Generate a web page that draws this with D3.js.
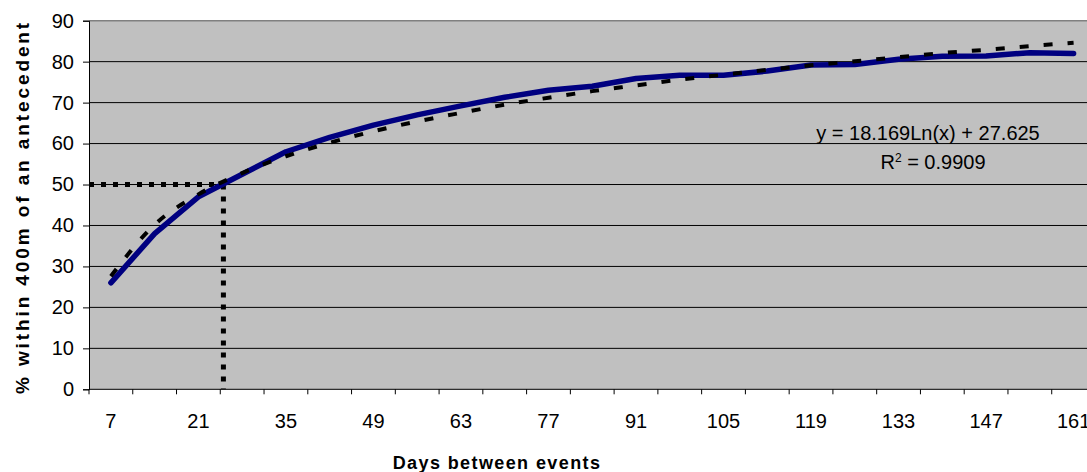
<!DOCTYPE html>
<html>
  <head>
    <meta charset="utf-8">
    <script src="https://d3js.org/d3.v7.min.js"></script>
    <style>
    body {
      margin: 0;
      background: #fff;
    }

    svg text {
      font-family: "Liberation Sans", Arial, sans-serif;
      fill: #000;
    }

    .axis-title {
      font-weight: bold;
    }
  </style>
  </head>
  <body>
    <div id="chart"></div>
    <script>
    // days between events (one category per week)
    var days = [7, 14, 21, 28, 35, 42, 49, 56, 63, 70, 77, 84, 91, 98, 105,
      112, 119, 126, 133, 140, 147, 154, 161];
    // % within 400m of an antecedent
    var pct = [26, 38, 47, 52.5, 58, 61.5, 64.5, 67, 69.2, 71.3, 73, 74,
      75.9, 76.7, 76.7, 77.7, 79.2, 79.3, 80.6, 81.3, 81.4, 82.2, 82];
    // log trendline as drawn (y = 18.169Ln(x) + 27.625)
    var trend = [27.6, 40.2, 47.6, 52.8, 56.9, 60.2, 63.0, 65.4, 67.5, 69.5,
      71.2, 72.8, 74.2, 75.6, 76.8, 78.0, 79.1, 80.1, 81.1, 82.1, 82.9, 83.8, 84.6];
    var yTicks = [0, 10, 20, 30, 40, 50, 60, 70, 80, 90];
    var xLabels = [7, 21, 35, 49, 63, 77, 91, 105, 119, 133, 147, 161];
    // dotted reading lines: 50% reached at about 25 days
    var refDay = [25];
    var refPct = [50];

    function draw() {
      var W = 1087, H = 472;
      var pLeft = 89, pTop = 20.7, pBottom = 389.3;
      var step = 43.76;
      var pRight = pLeft + step * days.length;

      var svg = d3.select('#chart').append('svg')
        .attr('width', W)
        .attr('height', H);

      var x = d3.scaleBand()
        .domain(days)
        .range([pLeft, pRight]);
      var y = d3.scaleLinear()
        .domain([0, 90])
        .range([pBottom, pTop]);

      // continuous x in days for the reference lines
      var xd = d3.scaleLinear()
        .domain([7, 161])
        .range([x(7) + x.bandwidth() / 2, x(161) + x.bandwidth() / 2]);

      // plot area
      svg.append('rect')
        .attr('x', pLeft)
        .attr('y', pTop)
        .attr('width', pRight - pLeft)
        .attr('height', pBottom - pTop)
        .attr('fill', '#c0c0c0');

      // grid lines
      svg.append('g')
        .selectAll('line')
        .data(yTicks.filter(function (d) { return d > 0 && d < 90; }))
        .enter().append('line')
        .attr('x1', pLeft)
        .attr('x2', pRight)
        .attr('y1', function (d) { return y(d); })
        .attr('y2', function (d) { return y(d); })
        .attr('stroke', '#000')
        .attr('stroke-width', 1);

      svg.append('line')
        .attr('x1', pLeft)
        .attr('x2', pRight)
        .attr('y1', y(90))
        .attr('y2', y(90))
        .attr('stroke', '#808080')
        .attr('stroke-width', 1.5);

      // y axis
      var gy = svg.append('g')
        .attr('transform', 'translate(' + pLeft + ',0)')
        .call(d3.axisLeft(y).tickValues(yTicks).tickSize(6).tickPadding(9));
      gy.select('.domain').attr('stroke', '#000');
      gy.selectAll('.tick line').attr('stroke', '#000');
      gy.selectAll('.tick text')
        .attr('font-family', null)
        .style('font-size', '20px');

      // x axis (ticks between categories, every other label)
      var gx = svg.append('g')
        .attr('transform', 'translate(0,' + pBottom + ')');
      gx.append('line')
        .attr('x1', pLeft)
        .attr('x2', pRight)
        .attr('stroke', '#000');
      gx.selectAll('.tk')
        .data(d3.range(days.length + 1))
        .enter().append('line')
        .attr('class', 'tk')
        .attr('x1', function (i) { return pLeft + step * i; })
        .attr('x2', function (i) { return pLeft + step * i; })
        .attr('y1', 0)
        .attr('y2', 5)
        .attr('stroke', '#000');
      gx.selectAll('.lbl')
        .data(xLabels)
        .enter().append('text')
        .attr('class', 'lbl')
        .attr('x', function (d) { return x(d) + x.bandwidth() / 2; })
        .attr('y', 39)
        .attr('text-anchor', 'middle')
        .style('font-size', '20px')
        .text(function (d) { return d; });

      // axis titles
      svg.append('text')
        .attr('class', 'axis-title')
        .attr('x', 497)
        .attr('y', 469)
        .attr('text-anchor', 'middle')
        .style('font-size', '18px')
        .style('letter-spacing', '1.4px')
        .text('Days between events');

      svg.append('text')
        .attr('class', 'axis-title')
        .attr('transform', 'translate(29,' + ((pTop + pBottom) / 2 + 2) + ') rotate(-90)')
        .attr('text-anchor', 'middle')
        .style('font-size', '19px')
        .style('letter-spacing', '2.9px')
        .text('% within 400m of an antecedent');

      // dotted reading lines
      svg.append('line')
        .attr('x1', pLeft)
        .attr('x2', xd(refDay[0]))
        .attr('y1', y(refPct[0]))
        .attr('y2', y(refPct[0]))
        .attr('stroke', '#000')
        .attr('stroke-width', 5)
        .attr('stroke-dasharray', '5,7');
      svg.append('line')
        .attr('x1', xd(refDay[0]))
        .attr('x2', xd(refDay[0]))
        .attr('y1', y(refPct[0]))
        .attr('y2', y(0))
        .attr('stroke', '#000')
        .attr('stroke-width', 5)
        .attr('stroke-dasharray', '5,7');

      var cx = function (d, i) { return x(days[i]) + x.bandwidth() / 2; };

      // data line
      svg.append('path')
        .datum(pct)
        .attr('d', d3.line().x(cx).y(function (d) { return y(d); }))
        .attr('fill', 'none')
        .attr('stroke', '#000080')
        .attr('stroke-width', 5.5)
        .attr('stroke-linejoin', 'round')
        .attr('stroke-linecap', 'round');

      // trend line
      svg.append('path')
        .datum(trend)
        .attr('d', d3.line().x(cx).y(function (d) { return y(d); }).curve(d3.curveMonotoneX))
        .attr('fill', 'none')
        .attr('stroke', '#000')
        .attr('stroke-width', 4)
        .attr('stroke-dasharray', '9,15');

      // equation label
      var eq = svg.append('g')
        .attr('text-anchor', 'middle')
        .style('font-size', '20px');
      eq.append('text')
        .attr('x', 928)
        .attr('y', 140)
        .text('y = 18.169Ln(x) + 27.625');
      var r2 = eq.append('text')
        .attr('x', 933)
        .attr('y', 169);
      r2.append('tspan').text('R');
      r2.append('tspan').attr('dy', -7).style('font-size', '12px').text('2');
      r2.append('tspan').attr('dy', 7).text(' = 0.9909');
    }

    draw();
  </script>
  </body>
</html>
